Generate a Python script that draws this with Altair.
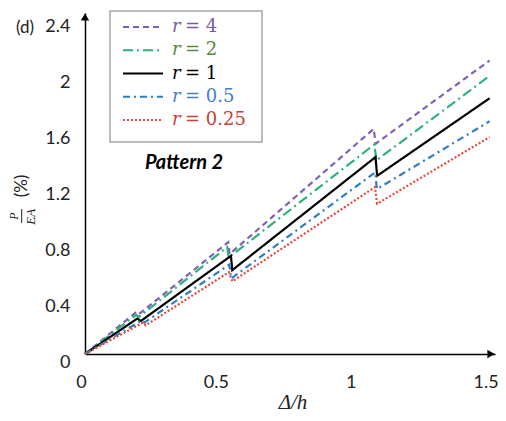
import altair as alt
import pandas as pd

names = ["r = 4", "r = 2", "r = 1", "r = 0.5", "r = 0.25"]
tails = ["= 4", "= 2", "= 1", "= 0.5", "= 0.25"]

x_r4 = [0, 0.19, 0.20, 0.531, 0.536, 1.070, 1.078, 1.50]
y_r4 = [0, 0.30, 0.285, 0.80, 0.715, 1.61, 1.505, 2.10]
x_r2 = [0, 0.19, 0.20, 0.527, 0.533, 1.073, 1.080, 1.50]
y_r2 = [0, 0.28, 0.265, 0.765, 0.69, 1.50, 1.385, 1.99]
x_r1 = [0, 0.194, 0.207, 0.541, 0.546, 1.077, 1.083, 1.50]
y_r1 = [0, 0.254, 0.236, 0.702, 0.600, 1.409, 1.275, 1.83]
x_r05 = [0, 0.21, 0.22, 0.535, 0.542, 1.076, 1.082, 1.50]
y_r05 = [0, 0.24, 0.225, 0.64, 0.54, 1.30, 1.18, 1.665]
x_r025 = [0, 0.215, 0.225, 0.533, 0.546, 1.075, 1.083, 1.50]
y_r025 = [0, 0.225, 0.205, 0.585, 0.52, 1.194, 1.075, 1.552]

x_ticks = [0, 0.5, 1, 1.5]
y_ticks = [0, 0.4, 0.8, 1.2, 1.6, 2, 2.4]
x_title = "Δ/h"

line_colors = ["#8062b4", "#2eb27a", "#000000", "#2e7fc2", "#e8463f"]
text_colors = ["#7a5aa8", "#5b8a3a", "#000000", "#4a7fbf", "#c9403a"]
dashes = [[6, 4], [10, 4, 2, 4], [1, 0], [7, 4, 2, 4], [2, 2]]

rows = []
for name, xs, ys in zip(names, [x_r4, x_r2, x_r1, x_r05, x_r025],
                        [y_r4, y_r2, y_r1, y_r05, y_r025]):
    for i, (a, b) in enumerate(zip(xs, ys)):
        rows.append({"series": name, "idx": i, "x": a, "y": b})
df = pd.DataFrame(rows)

leg = pd.DataFrame({"series": names, "idx": list(range(5)), "tail": tails,
                    "r": ["r"] * 5, "tc": text_colors})

color_scale = alt.Scale(domain=names, range=line_colors)
dash_scale = alt.Scale(domain=names, range=dashes)

lines = alt.Chart(df).mark_line(strokeWidth=2.2, clip=False).encode(
    x=alt.X("x:Q", scale=alt.Scale(domain=[0, 1.52], nice=False),
            axis=alt.Axis(values=x_ticks, format="~g", grid=False, ticks=False,
                          domainColor="black", domainWidth=1.5,
                          labelFont="Lato", labelFontSize=18, labelColor="#222",
                          labelPadding=19, labelOffset=-4, labelFlush=False,
                          title=None)),
    y=alt.Y("y:Q", scale=alt.Scale(domain=[0, 2.44], nice=False),
            axis=alt.Axis(values=y_ticks, format="~g", grid=False, ticks=False,
                          domainColor="black", domainWidth=1.5,
                          labelFont="Lato", labelFontSize=18, labelColor="#222",
                          labelPadding=15, labelOffset=8, labelFlush=False,
                          title=None)),
    color=alt.Color("series:N", scale=color_scale, legend=None),
    strokeDash=alt.StrokeDash("series:N", scale=dash_scale, legend=None),
    order="idx:Q",
)

one = pd.DataFrame({"a": [0]})

arrow_up = alt.Chart(one).mark_point(shape="triangle-up", filled=True, size=70,
                                     color="black", opacity=1).encode(
    x=alt.value(0), y=alt.value(4))
arrow_right = alt.Chart(one).mark_point(shape="triangle-right", filled=True, size=70,
                                        color="black", opacity=1).encode(
    x=alt.value(406), y=alt.value(341))

box = alt.Chart(one).mark_rect(fill="white", stroke="#a6a6a6", strokeWidth=1.5).encode(
    x=alt.value(25), x2=alt.value(177), y=alt.value(-2), y2=alt.value(129))

leg_y = alt.Y("idx:Q", scale=alt.Scale(domain=[0, 4], range=[14, 107]), axis=None)

leg_rules = alt.Chart(leg).mark_rule(strokeWidth=2.2).encode(
    x=alt.value(38), x2=alt.value(78), y=leg_y,
    color=alt.Color("series:N", scale=color_scale, legend=None),
    strokeDash=alt.StrokeDash("series:N", scale=dash_scale, legend=None),
)
leg_r = alt.Chart(leg).mark_text(font="DejaVu Serif", fontStyle="italic", fontSize=18,
                                 align="left", baseline="middle").encode(
    x=alt.value(87), y=leg_y, text="r:N", color=alt.Color("tc:N", scale=None))
leg_t = alt.Chart(leg).mark_text(font="DejaVu Serif", fontSize=18,
                                 align="left", baseline="middle").encode(
    x=alt.value(100), y=leg_y, text="tail:N", color=alt.Color("tc:N", scale=None))

xt = alt.Chart(pd.DataFrame({"t": [x_title]})).mark_text(
    font="Liberation Serif", fontStyle="italic", fontSize=21,
    align="center", baseline="bottom", color="#222").encode(
    x=alt.value(208), y=alt.value(400), text="t:N")

pattern = alt.Chart(pd.DataFrame({"t": ["Pattern 2"]})).mark_text(
    font="Lato", fontSize=20, fontWeight="bold", fontStyle="italic",
    align="center", baseline="middle", color="black").encode(
    x=alt.value(99), y=alt.value(150), text="t:N")

panel = alt.Chart(pd.DataFrame({"t": ["(d)"]})).mark_text(
    font="Lato", fontSize=17, align="left", baseline="middle", color="#222").encode(
    x=alt.value(-69), y=alt.value(15), text="t:N")

pct = alt.Chart(pd.DataFrame({"t": ["(%)"]})).mark_text(
    font="Lato", fontSize=17, angle=270, align="center", baseline="middle",
    color="#222").encode(x=alt.value(-63.3), y=alt.value(173), text="t:N")
num = alt.Chart(pd.DataFrame({"t": ["P"]})).mark_text(
    font="Liberation Serif", fontStyle="italic", fontSize=12, angle=270,
    align="center", baseline="middle", color="#222").encode(
    x=alt.value(-71), y=alt.value(203), text="t:N")
den = alt.Chart(pd.DataFrame({"t": ["EA"]})).mark_text(
    font="Liberation Serif", fontStyle="italic", fontSize=13, angle=270,
    align="center", baseline="middle", color="#222").encode(
    x=alt.value(-54), y=alt.value(203.7), text="t:N")
bar = alt.Chart(one).mark_rule(color="#222", strokeWidth=1).encode(
    x=alt.value(-63.3), y=alt.value(196), y2=alt.value(210))

chart = alt.layer(
    lines, arrow_up, arrow_right, box, leg_rules, leg_r, leg_t, xt,
    pattern, panel, pct, num, den, bar
).resolve_scale(y="independent").properties(
    width=410, height=341,
    padding={"left": 77, "top": 5, "right": 3, "bottom": 59},
    autosize=alt.AutoSizeParams(type="none"),
).configure_view(stroke=None)

chart.save("out.html", embed_options={"renderer": "svg", "actions": False})
